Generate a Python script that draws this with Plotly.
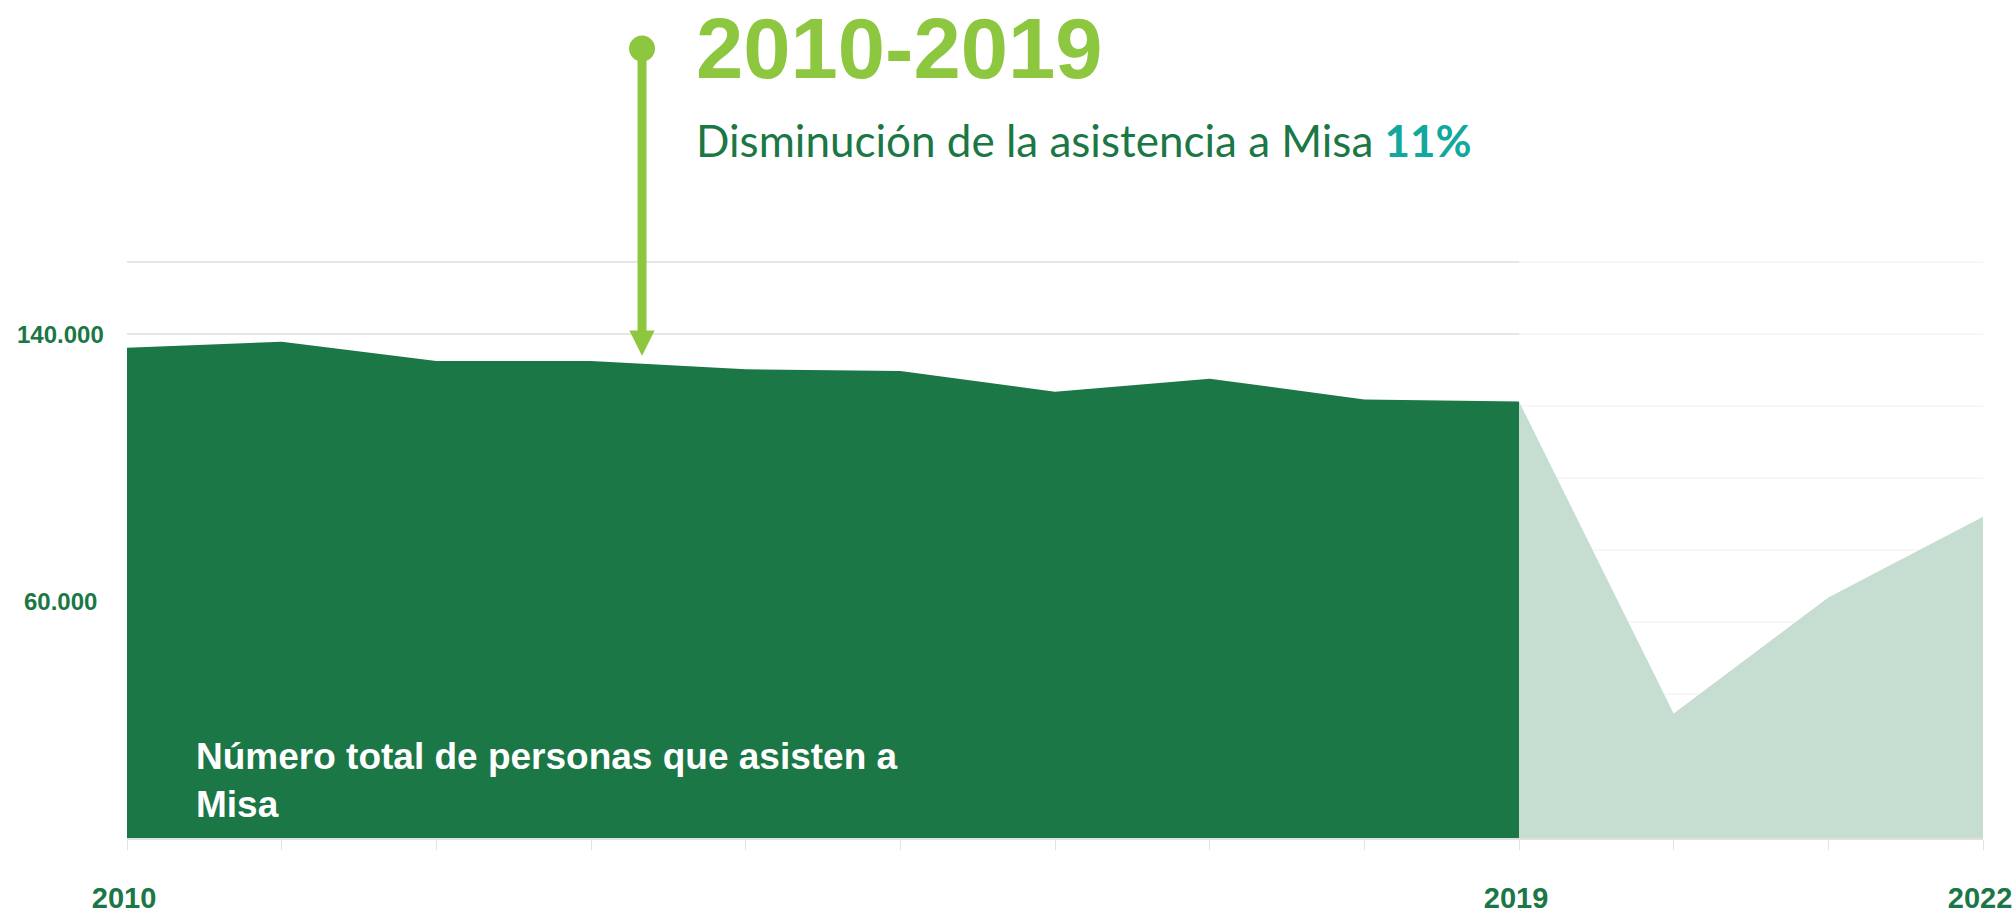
import plotly.graph_objects as go

# ---------------- data ----------------
years_pre = [2010, 2011, 2012, 2013, 2014, 2015, 2016, 2017, 2018, 2019]
attendance_pre = [136200, 137850, 132500, 132500, 130200, 129750, 123950, 127600, 121800, 121250]
years_post = [2019, 2020, 2021, 2022]
attendance_post = [121250, 34600, 66800, 89250]

x_tick_years = list(range(2010, 2023))
x_label_years = [2010, 2019, 2022]
y_label_values = [140000, 60000]
y_label_texts = ["140.000", "60.000"]
grid_values = [20000, 40000, 60000, 80000, 100000, 120000, 140000, 160000]

title_text = "2010-2019"
subtitle_text = "Disminución de la asistencia a Misa"
subtitle_pct = "11%"
area_label = "Número total de personas que asisten a<br>Misa"

# ---------------- styles ----------------
DARK = "#1B7745"
LIGHT = "#C5DED1"
LIME = "#8DC63F"
TEAL = "#13A89E"
W, H = 2013, 914
ML, MR, MT, MB = 127, 30, 0, 73
Y_TOP = 232800
PLOT_H = H - MT - MB


def py(px):
    """paper y from pixel y (page coords)"""
    return 1 - (px - MT) / PLOT_H


def px_x(px):
    return (px - ML) / (W - ML - MR)


fig = go.Figure()

fig.add_trace(go.Scatter(x=years_post, y=attendance_post, mode="lines", fill="tozeroy",
                         fillcolor=LIGHT, line=dict(width=0, color=LIGHT), hoverinfo="skip",
                         showlegend=False))
fig.add_trace(go.Scatter(x=years_pre, y=attendance_pre, mode="lines", fill="tozeroy",
                         fillcolor=DARK, line=dict(width=0, color=DARK), hoverinfo="skip",
                         showlegend=False))

shapes = []
# darker gridlines over 2010-2019 portion
for g in grid_values:
    shapes.append(dict(type="line", xref="x", yref="y", x0=years_pre[0], x1=years_pre[-1],
                       y0=g, y1=g, line=dict(color="#E6E6E6", width=2), layer="between"))

# arrow
ARROW_X = 2013.33
DOT_Y = 219300
HEAD_BASE_Y = 141000
TIP_Y = 134000
HEAD_HALF = 0.082
shapes.append(dict(type="line", xref="x", yref="y", x0=ARROW_X, x1=ARROW_X, y0=DOT_Y,
                   y1=HEAD_BASE_Y - 500, line=dict(color=LIME, width=9), layer="above"))
shapes.append(dict(type="path", xref="x", yref="y",
                   path=f"M {ARROW_X - HEAD_HALF} {HEAD_BASE_Y} L {ARROW_X + HEAD_HALF} {HEAD_BASE_Y} L {ARROW_X} {TIP_Y} Z",
                   fillcolor=LIME, line=dict(width=0), layer="above"))
shapes.append(dict(type="circle", xref="x", yref="y", xsizemode="pixel", ysizemode="pixel",
                   xanchor=ARROW_X, yanchor=DOT_Y, x0=-13, x1=13, y0=-13, y1=13,
                   fillcolor=LIME, line=dict(width=0), layer="above"))

annotations = []
annotations.append(dict(text=f"<b>{title_text}</b>", xref="paper", yref="paper",
                        x=px_x(694), y=py(49), xanchor="left", yanchor="middle", showarrow=False,
                        font=dict(family="Liberation Sans, Arial", size=85, color=LIME)))
annotations.append(dict(text=f"{subtitle_text} <b><span style='color:{TEAL}'>{subtitle_pct}</span></b>",
                        xref="paper", yref="paper", x=px_x(694), y=py(140), xanchor="left",
                        yanchor="middle", showarrow=False,
                        font=dict(family="Lato", size=44, color=DARK)))
annotations.append(dict(text=f"<b>{area_label}</b>", xref="paper", yref="paper",
                        x=px_x(194), y=py(783), xanchor="left", yanchor="middle", align="left",
                        showarrow=False,
                        font=dict(family="Liberation Sans, Arial", size=37, color="white")))
for v, t in zip(y_label_values, y_label_texts):
    annotations.append(dict(text=f"<b>{t}</b>", xref="paper", yref="y", x=0, y=v,
                            xanchor="center", yanchor="middle", xshift=-67,
                            yshift=21 if v == 60000 else 0, showarrow=False,
                            font=dict(family="Liberation Sans, Arial", size=24, color=DARK)))

fig.update_layout(
    width=W, height=H,
    margin=dict(l=ML, r=MR, t=MT, b=MB, pad=0),
    paper_bgcolor="white", plot_bgcolor="white",
    shapes=shapes, annotations=annotations,
    showlegend=False,
)
fig.update_xaxes(range=[2010, 2022], tickmode="array", tickvals=x_tick_years,
                 ticktext=[f"<b>{y}</b>" if y in x_label_years else "" for y in x_tick_years],
                 ticks="outside", ticklen=10, tickcolor="#E3E3E3", tickwidth=1,
                 showgrid=False, zeroline=False, showline=True, linecolor="#E0E0E0", linewidth=2,
                 ticklabelstandoff=23, ticklabelshift=-3,
                 tickfont=dict(family="Liberation Sans, Arial", size=29, color=DARK))
fig.update_yaxes(range=[0, Y_TOP], tickmode="array", tickvals=grid_values, showticklabels=False,
                 showgrid=True, gridcolor="#F7F7F7", gridwidth=2, zeroline=False, showline=False)

POST = (
    "document.documentElement.style.margin='0px';"
    "document.body.style.margin='0px';"
    "document.documentElement.style.overflow='hidden';"
    "document.body.style.overflow='hidden';"
    "var gds=document.getElementsByClassName('plotly-graph-div');"
    "for(var i=0;i<gds.length;i++){gds[i].style.overflow='hidden';gds[i].style.height='914px';"
    "if(gds[i].parentNode){gds[i].parentNode.style.height='914px';gds[i].parentNode.style.overflow='hidden';}}"
)
fig.write_html("out.html", config={"displayModeBar": False}, post_script=POST)
